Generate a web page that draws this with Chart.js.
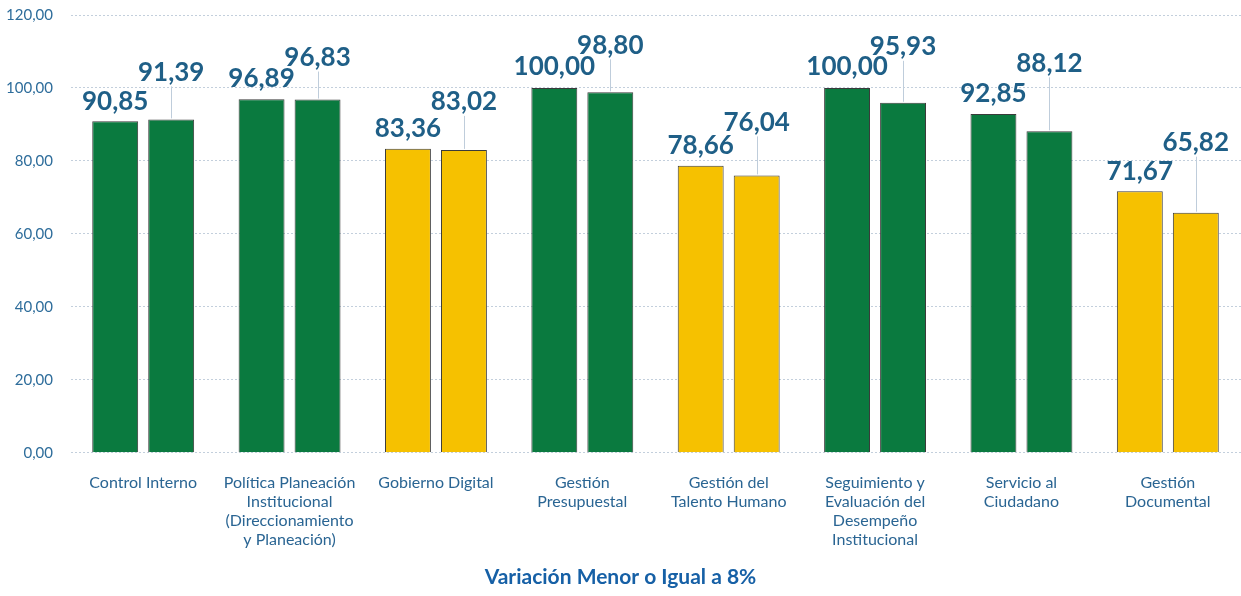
<!DOCTYPE html>
<html>
<head>
<meta charset="utf-8">
<script src="https://cdn.jsdelivr.net/npm/chart.js@4/dist/chart.umd.min.js"></script>
<style>
  html, body { margin: 0; padding: 0; background: #fff; }
  #wrap { width: 1241px; height: 596px; }
</style>
</head>
<body>
<div id="wrap"><canvas id="grafico"></canvas></div>
<script>
// datos
const categorias = [
    'Control Interno',
    ['Política Planeación', 'Institucional', '(Direccionamiento', 'y Planeación)'],
    'Gobierno Digital',
    ['Gestión', 'Presupuestal'],
    ['Gestión del', 'Talento Humano'],
    ['Seguimiento y', 'Evaluación del', 'Desempeño', 'Institucional'],
    ['Servicio al', 'Ciudadano'],
    ['Gestión', 'Documental']
];
const serieA = [90.85, 96.89, 83.36, 100.00, 78.66, 100.00, 92.85, 71.67];
const serieB = [91.39, 96.83, 83.02, 98.80, 76.04, 95.93, 88.12, 65.82];
const ticksY = [0, 20, 40, 60, 80, 100, 120];

// estilo
const VERDE = '#0a7a3f';
const AMARILLO = '#f6c100';
const colorCategoria = [VERDE, VERDE, AMARILLO, VERDE, AMARILLO, VERDE, VERDE, AMARILLO];
const alturaEtiqueta = [
    [20, 21, 20, 21, 20, 21, 20, 20],
    [47, 42, 48, 47, 53, 56, 68, 70]
];

const fmt = v => v.toFixed(2).replace('.', ',');

const etiquetas = {
    id: 'etiquetas',
    afterDatasetsDraw(chart) {
        const ctx = chart.ctx;
        ctx.save();
        chart.data.datasets.forEach((ds, d) => {
            chart.getDatasetMeta(d).data.forEach((bar, i) => {
                const lift = alturaEtiqueta[d][i];
                const ty = bar.y - lift;
                if (d === 1) {
                    ctx.strokeStyle = '#bfcddb';
                    ctx.lineWidth = 1;
                    ctx.beginPath();
                    ctx.moveTo(Math.round(bar.x) + 0.5, bar.y - 1);
                    ctx.lineTo(Math.round(bar.x) + 0.5, ty + 14);
                    ctx.stroke();
                }
                ctx.fillStyle = '#1f5f87';
                ctx.font = 'bold 26px Lato';
                ctx.textAlign = 'center';
                ctx.textBaseline = 'middle';
                ctx.fillText(fmt(ds.data[i]), bar.x, ty);
            });
        });
        ctx.restore();
    }
};

new Chart(document.getElementById('grafico'), {
    type: 'bar',
    data: {
        labels: categorias,
        datasets: [{
            data: serieA,
            backgroundColor: colorCategoria,
            borderColor: '#3b3b3b',
            borderWidth: 1,
            categoryPercentage: 0.765,
            barPercentage: 0.82
        }, {
            data: serieB,
            backgroundColor: colorCategoria,
            borderColor: '#3b3b3b',
            borderWidth: 1,
            categoryPercentage: 0.765,
            barPercentage: 0.82
        }]
    },
    options: {
        responsive: true,
        maintainAspectRatio: false,
        animation: false,
        layout: { padding: { top: 15, right: 0, left: 0, bottom: 0 } },
        plugins: {
            legend: { display: false },
            tooltip: { enabled: false },
            title: {
                display: true,
                position: 'bottom',
                text: 'Variación Menor o Igual a 8%',
                color: '#1660a6',
                font: { family: 'Lato', size: 21, weight: 'bold' },
                padding: { top: 8, bottom: 6 }
            }
        },
        scales: {
            x: {
                grid: { display: false },
                border: { display: false },
                ticks: {
                    color: '#2a6593',
                    font: { family: 'Lato', size: 16 },
                    padding: 12,
                    maxRotation: 0,
                    autoSkip: false
                },
                afterFit(scale) { scale.height = 104; }
            },
            y: {
                min: ticksY[0],
                max: ticksY[ticksY.length - 1],
                afterBuildTicks(scale) { scale.ticks = ticksY.map(v => ({ value: v })); },
                grid: { color: '#c3cfdc', drawTicks: false },
                border: { display: true, color: 'rgba(0,0,0,0)', dash: [2, 2] },
                ticks: {
                    color: '#2e6d9b',
                    font: { family: 'Lato', size: 15 },
                    padding: 17,
                    callback: v => fmt(v)
                },
                afterFit(scale) {
                    scale.width = 70;
                    scale.paddingTop = 0;
                    scale.paddingBottom = 0;
                }
            }
        }
    },
    plugins: [etiquetas]
});
</script>
</body>
</html>
